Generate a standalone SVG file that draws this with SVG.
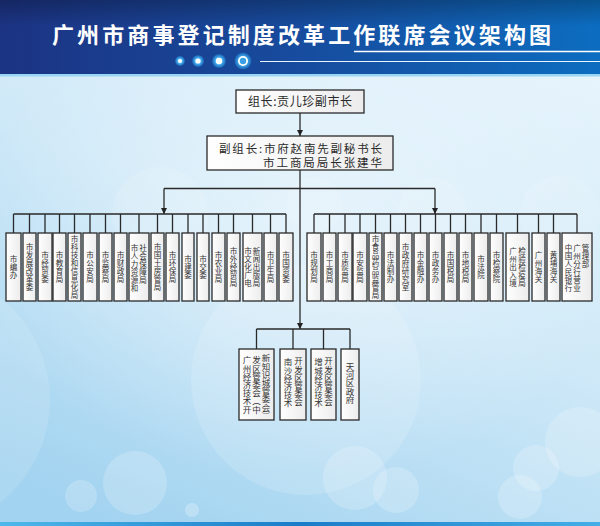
<svg xmlns="http://www.w3.org/2000/svg" width="600" height="526" viewBox="0 0 600 526">
<defs>
<linearGradient id="bg" x1="0.7" y1="0" x2="0.2" y2="1">
<stop offset="0" stop-color="#e6f4fc"/>
<stop offset="0.45" stop-color="#cfe9f8"/>
<stop offset="1" stop-color="#a2d3f0"/>
</linearGradient>
<radialGradient id="glow" cx="0.5" cy="0.35" r="0.55">
<stop offset="0" stop-color="#ffffff" stop-opacity="0.45"/>
<stop offset="1" stop-color="#ffffff" stop-opacity="0"/>
</radialGradient>
<linearGradient id="banner" x1="0" y1="0" x2="1" y2="0">
<stop offset="0" stop-color="#1c3383"/>
<stop offset="0.5" stop-color="#174c9e"/>
<stop offset="1" stop-color="#0c6dc0"/>
</linearGradient>
<linearGradient id="bshade" x1="0" y1="0" x2="0" y2="1">
<stop offset="0" stop-color="#000" stop-opacity="0.25"/>
<stop offset="0.35" stop-color="#000" stop-opacity="0"/>
</linearGradient>
<linearGradient id="boxfill" x1="0" y1="0" x2="1" y2="0">
<stop offset="0" stop-color="#ffffff"/>
<stop offset="1" stop-color="#ececec"/>
</linearGradient>
<linearGradient id="foot" x1="0" y1="0" x2="1" y2="0">
<stop offset="0" stop-color="#4fb8ea"/>
<stop offset="0.5" stop-color="#1a7cc8"/>
<stop offset="1" stop-color="#45aee6"/>
</linearGradient>
<radialGradient id="dot" cx="0.5" cy="0.5" r="0.5">
<stop offset="0" stop-color="#bff0ff"/>
<stop offset="0.6" stop-color="#3aa0e6"/>
<stop offset="1" stop-color="#1b5fb0"/>
</radialGradient>
<marker id="arr" viewBox="0 0 8 8" refX="8" refY="4" markerWidth="6" markerHeight="6" orient="auto" markerUnits="userSpaceOnUse">
<path d="M0,0 L8,4 L0,8 z" fill="#222"/>
</marker>
</defs>
<style>
.box{fill:url(#boxfill);stroke:#2a2a2a;stroke-width:1.3}
.v{font-family:"Noto Sans CJK SC","Noto Sans",sans-serif;font-size:7.5px;fill:#333;writing-mode:vertical-rl;letter-spacing:0.5px}
.vb{font-size:8.5px;letter-spacing:-0.3px}
.c{text-anchor:middle}
.h{font-family:"Noto Sans CJK SC","Noto Sans",sans-serif;font-size:12px;fill:#2a2a2a}
.h2{font-size:11.5px}
.ln{fill:none;stroke:#2a2a2a;stroke-width:1.3}
.bub{fill:#ffffff}
</style>

<!-- background -->
<rect x="0" y="0" width="600" height="526" fill="url(#bg)"/>
<rect x="0" y="75" width="600" height="451" fill="url(#glow)"/>
<g id="bubbles" class="bub">
<circle cx="-80" cy="400" r="130" opacity="0.12"/>
<circle cx="306" cy="380" r="115" opacity="0.14"/>
<circle cx="160" cy="215" r="48" opacity="0.12"/>
<circle cx="314" cy="205" r="28" opacity="0.12"/>
<circle cx="432" cy="212" r="34" opacity="0.12"/>
<circle cx="560" cy="215" r="40" opacity="0.1"/>
<circle cx="135" cy="483" r="32" opacity="0.2"/>
<circle cx="81" cy="496" r="16" opacity="0.2"/>
<circle cx="192" cy="510" r="7" opacity="0.25"/>
<circle cx="355" cy="478" r="32" opacity="0.2"/>
<circle cx="396" cy="490" r="23" opacity="0.2"/>
<circle cx="520" cy="497" r="22" opacity="0.2"/>
<circle cx="536" cy="468" r="23" opacity="0.2"/>
<circle cx="580" cy="442" r="35" opacity="0.2"/>
</g>
<rect x="0" y="522" width="600" height="4" fill="url(#foot)"/>

<!-- header -->
<g id="header">
<rect x="0" y="0" width="600" height="75" fill="url(#banner)"/>
<rect x="0" y="0" width="600" height="75" fill="url(#bshade)"/>
<rect x="0" y="74" width="600" height="2.5" fill="#9ad6f3"/>
<text x="52" y="43" textLength="499" lengthAdjust="spacing" font-family="'Noto Sans CJK SC','Noto Sans',sans-serif" font-size="22" font-weight="bold" fill="#ffffff">广州市商事登记制度改革工作联席会议架构图</text>
<line x1="354" y1="51.5" x2="600" y2="51.5" stroke="#ffffff" stroke-width="1.6"/>
<line x1="260" y1="61.5" x2="600" y2="61.5" stroke="#e8f6ff" stroke-width="1.2"/>
<circle cx="180" cy="61" r="5" fill="url(#dot)"/><circle cx="180" cy="61" r="2" fill="#fff"/>
<circle cx="198" cy="61" r="6" fill="url(#dot)"/><circle cx="198" cy="61" r="2.6" fill="#fff"/>
<circle cx="219" cy="61" r="7" fill="url(#dot)"/><circle cx="219" cy="61" r="3.2" fill="#fff"/>
<circle cx="243" cy="61" r="8.5" fill="url(#dot)"/><circle cx="243" cy="61" r="5" fill="#fff"/><circle cx="243" cy="61" r="3.2" fill="#3aa0e6"/>
</g>

<!-- connectors -->
<g id="connectors" class="ln">
<line x1="300" y1="113" x2="300" y2="136" marker-end="url(#arr)"/>
<line x1="300" y1="170" x2="300" y2="329" marker-end="url(#arr)"/>
<line x1="164" y1="188.5" x2="435" y2="188.5"/>
<line x1="164" y1="188.5" x2="164" y2="214" marker-end="url(#arr)"/>
<line x1="435" y1="188.5" x2="435" y2="214" marker-end="url(#arr)"/>
<path d="M13.5,214 H286 M13.5,214 V233 M29.5,214 V233 M45,214 V233 M59.5,214 V233 M74.5,214 V233 M90,214 V233 M105.5,214 V233 M120.5,214 V233 M139,214 V233 M157.5,214 V233 M172.5,214 V233 M188,214 V233 M203,214 V233 M218.5,214 V233 M233.5,214 V233 M252.5,214 V233 M270.5,214 V233 M286,214 V233"/>
<path d="M314,214 H577 M314,214 V233 M329.5,214 V233 M345,214 V233 M360,214 V233 M375.5,214 V233 M390.5,214 V233 M405.5,214 V233 M420.5,214 V233 M435.5,214 V233 M450.5,214 V233 M465.5,214 V233 M481,214 V233 M496.5,214 V233 M517.5,214 V233 M538.5,214 V233 M553.5,214 V233 M577,214 V233"/>
<path d="M256.5,329 H350 M256.5,329 V349 M293,329 V349 M323.5,329 V349 M350,329 V349"/>
</g>

<!-- leaders -->
<g id="n-leader">
<rect class="box" x="236" y="90" width="128" height="23"/>
<text class="h" x="248" y="105.5" textLength="104" lengthAdjust="spacing">组长:贡儿珍副市长</text>
</g>
<g id="n-deputy">
<rect class="box" x="207" y="136" width="186" height="34"/>
<text class="h h2" x="219" y="152.5" textLength="163" lengthAdjust="spacing">副组长:市府赵南先副秘书长</text>
<text class="h h2" x="263" y="166.5" textLength="119" lengthAdjust="spacing">市工商局局长张建华</text>
</g>

<!-- left row -->
<g id="n-l1"><rect class="box" x="6" y="233" width="15" height="68"/><text class="v c" x="13.5" y="267">市编办</text></g>
<g id="n-l2"><rect class="box" x="23" y="233" width="13" height="68"/><text class="v c" x="29.5" y="267">市发展改革委</text></g>
<g id="n-l3"><rect class="box" x="38" y="233" width="14" height="68"/><text class="v c" x="45" y="267">市经贸委</text></g>
<g id="n-l4"><rect class="box" x="53" y="233" width="13" height="68"/><text class="v c" x="59.5" y="267">市教育局</text></g>
<g id="n-l5"><rect class="box" x="68" y="233" width="13" height="68"/><text class="v c" x="74.5" y="267">市科技和信息化局</text></g>
<g id="n-l6"><rect class="box" x="83" y="233" width="14" height="68"/><text class="v c" x="90" y="267">市公安局</text></g>
<g id="n-l7"><rect class="box" x="99" y="233" width="13" height="68"/><text class="v c" x="105.5" y="267">市监察局</text></g>
<g id="n-l8"><rect class="box" x="114" y="233" width="13" height="68"/><text class="v c" x="120.5" y="267">市财政局</text></g>
<g id="n-l9"><rect class="box" x="129" y="233" width="20" height="68"/><text class="v" x="134.5" y="244">市人力资源和</text><text class="v" x="143" y="244">社会保障局</text></g>
<g id="n-l10"><rect class="box" x="151" y="233" width="13" height="68"/><text class="v c" x="157.5" y="267">市国土房管局</text></g>
<g id="n-l11"><rect class="box" x="166" y="233" width="13" height="68"/><text class="v c" x="172.5" y="267">市环保局</text></g>
<g id="n-l12"><rect class="box" x="182" y="233" width="12" height="68"/><text class="v c" x="188" y="267">市建委</text></g>
<g id="n-l13"><rect class="box" x="197" y="233" width="12" height="68"/><text class="v c" x="203" y="267">市交委</text></g>
<g id="n-l14"><rect class="box" x="212" y="233" width="13" height="68"/><text class="v c" x="218.5" y="267">市农业局</text></g>
<g id="n-l15"><rect class="box" x="227" y="233" width="13" height="68"/><text class="v c" x="233.5" y="267">市外经贸局</text></g>
<g id="n-l16"><rect class="box" x="243" y="233" width="19" height="68"/><text class="v" x="248" y="247">市文化广电</text><text class="v" x="256.5" y="247">新闻出版局</text></g>
<g id="n-l17"><rect class="box" x="264" y="233" width="13" height="68"/><text class="v c" x="270.5" y="267">市卫生局</text></g>
<g id="n-l18"><rect class="box" x="279" y="233" width="14" height="68"/><text class="v c" x="286" y="267">市国资委</text></g>

<!-- right row -->
<g id="n-r1"><rect class="box" x="307" y="233" width="14" height="68"/><text class="v c" x="314" y="267">市规划局</text></g>
<g id="n-r2"><rect class="box" x="323" y="233" width="13" height="68"/><text class="v c" x="329.5" y="267">市工商局</text></g>
<g id="n-r3"><rect class="box" x="338" y="233" width="14" height="68"/><text class="v c" x="345" y="267">市质监局</text></g>
<g id="n-r4"><rect class="box" x="353" y="233" width="14" height="68"/><text class="v c" x="360" y="267">市安监局</text></g>
<g id="n-r5"><rect class="box" x="369" y="233" width="13" height="68"/><text class="v c" x="375.5" y="267">市食品药品监管局</text></g>
<g id="n-r6"><rect class="box" x="384" y="233" width="13" height="68"/><text class="v c" x="390.5" y="267">市法制办</text></g>
<g id="n-r7"><rect class="box" x="399" y="233" width="13" height="68"/><text class="v c" x="405.5" y="267">市政府研究室</text></g>
<g id="n-r8"><rect class="box" x="414" y="233" width="13" height="68"/><text class="v c" x="420.5" y="267">市金融办</text></g>
<g id="n-r9"><rect class="box" x="429" y="233" width="13" height="68"/><text class="v c" x="435.5" y="267">市政务办</text></g>
<g id="n-r10"><rect class="box" x="444" y="233" width="13" height="68"/><text class="v c" x="450.5" y="267">市国税局</text></g>
<g id="n-r11"><rect class="box" x="459" y="233" width="13" height="68"/><text class="v c" x="465.5" y="267">市地税局</text></g>
<g id="n-r12"><rect class="box" x="474" y="233" width="14" height="68"/><text class="v c" x="481" y="267">市法院</text></g>
<g id="n-r13"><rect class="box" x="490" y="233" width="13" height="68"/><text class="v c" x="496.5" y="267">市检察院</text></g>
<g id="n-r14"><rect class="box" x="506" y="233" width="23" height="68"/><text class="v" x="513" y="247">广州出入境</text><text class="v" x="522" y="247">检验检疫局</text></g>
<g id="n-r15"><rect class="box" x="532" y="233" width="13" height="68"/><text class="v c" x="538.5" y="267">广州海关</text></g>
<g id="n-r16"><rect class="box" x="547" y="233" width="13" height="68"/><text class="v c" x="553.5" y="267">黄埔海关</text></g>
<g id="n-r17"><rect class="box" x="562" y="233" width="30" height="68"/><text class="v" x="568.5" y="244">中国人民银行</text><text class="v" x="577" y="244">广州分行营业</text><text class="v" x="585.5" y="244">管理部</text></g>

<!-- bottom row -->
<g id="n-b1"><rect class="box" x="239" y="349" width="35" height="71"/><text class="v vb" x="247" y="356">广州经济技术开</text><text class="v vb" x="256.5" y="356">发区管委会（中</text><text class="v vb" x="266" y="354">新知识城管委会）</text></g>
<g id="n-b2"><rect class="box" x="280" y="349" width="26" height="71"/><text class="v vb" x="288" y="358">南沙经济技术</text><text class="v vb" x="298.5" y="357">开发区管委会</text></g>
<g id="n-b3"><rect class="box" x="311" y="349" width="25" height="71"/><text class="v vb" x="318.5" y="358">增城经济技术</text><text class="v vb" x="328.5" y="357">开发区管委会</text></g>
<g id="n-b4"><rect class="box" x="341" y="349" width="18" height="71"/><text class="v vb c" x="350" y="383">天河区政府</text></g>
</svg>
